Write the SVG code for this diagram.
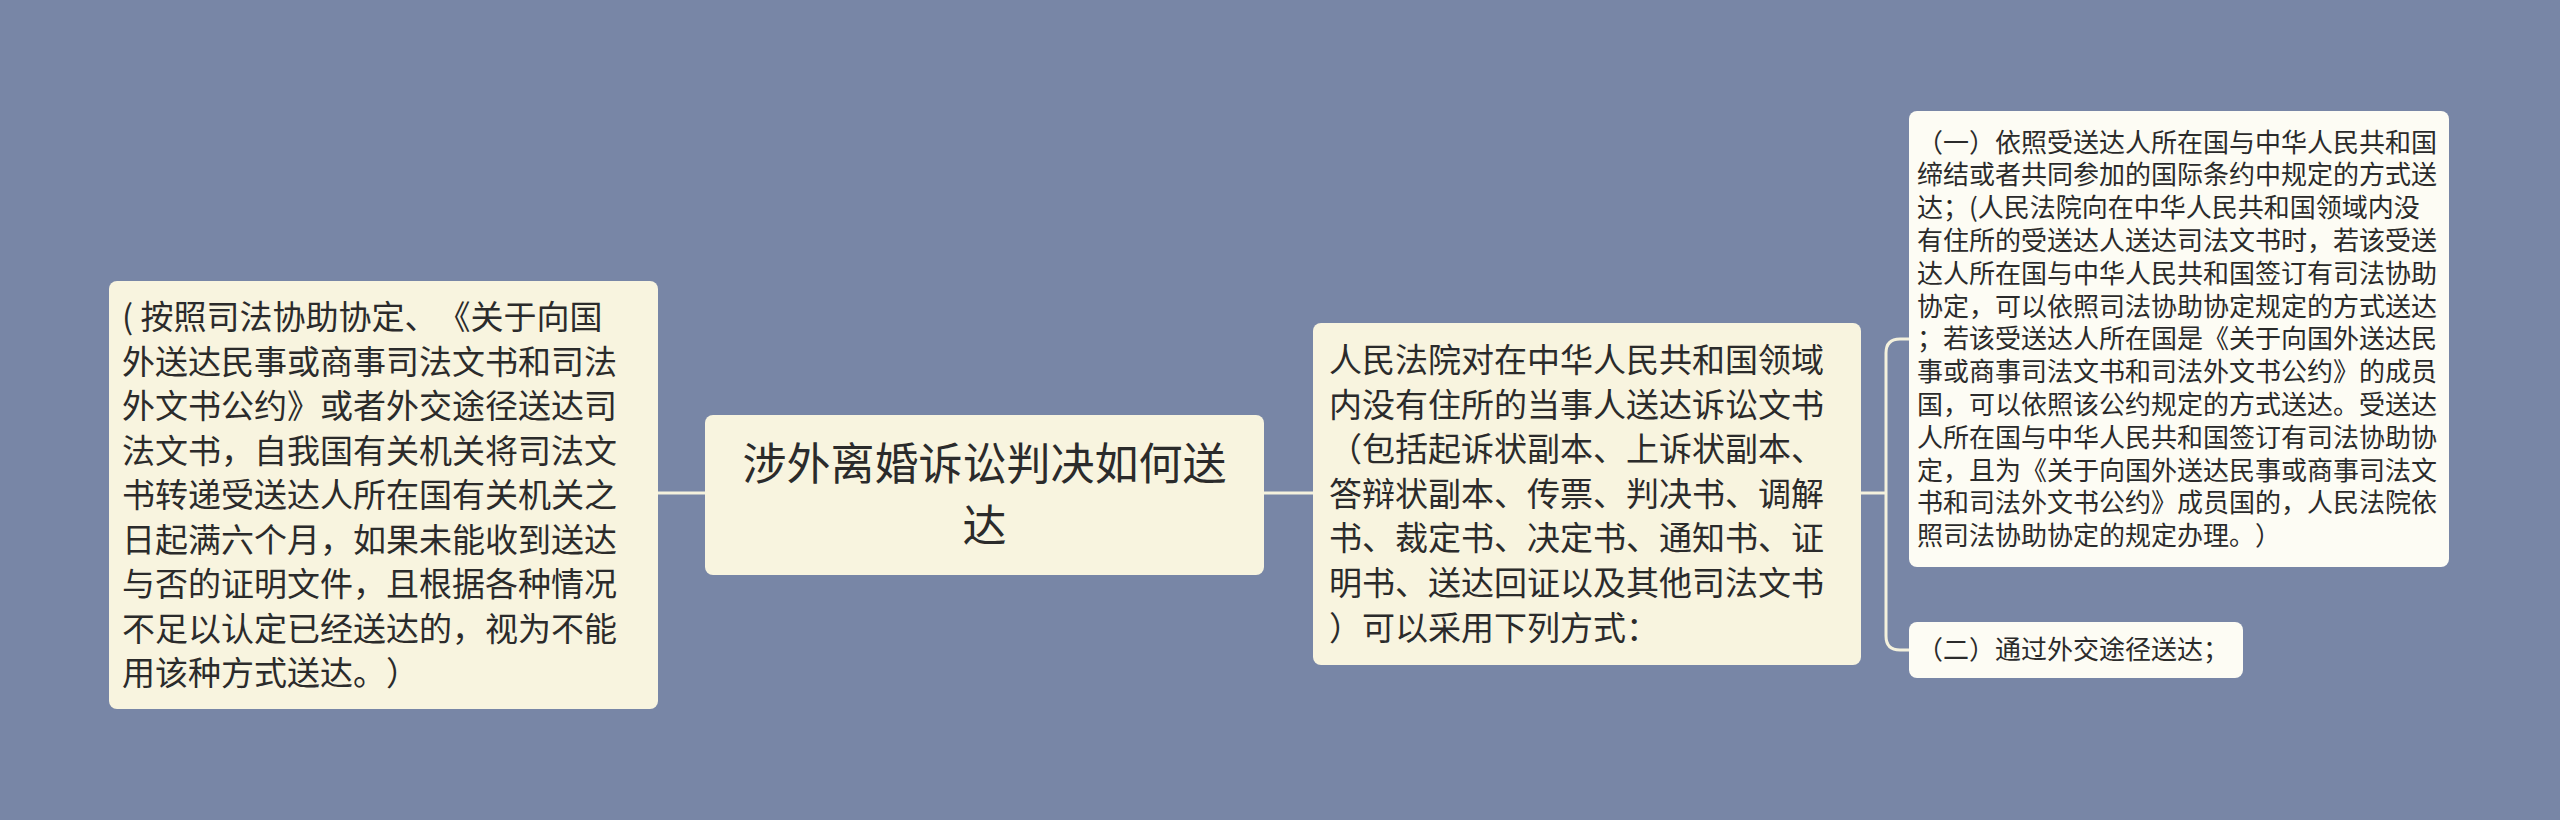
<svg xmlns="http://www.w3.org/2000/svg" width="2560" height="820" viewBox="0 0 2560 820">
<style>
.bg{fill:#7886a6}
.main{fill:#f8f4df}
.leaf{fill:#fdfcf4}
.t{font-family:"Noto Sans CJK SC","Noto Sans",sans-serif;fill:#2b2b2b;text-spacing-trim:space-all;font-feature-settings:"halt" 0,"chws" 0}
.t33{font-size:33px}
.t44{font-size:44px}
.t26{font-size:26px}
.con{fill:none;stroke:#f4f1dd;stroke-width:3}
</style>
<rect class="bg" x="0" y="0" width="2560" height="820"/>
<g id="connectors">
<path class="con" d="M658 493 H705"/>
<path class="con" d="M1264 493 H1313"/>
<path class="con" d="M1861 493 H1886"/>
<path class="con" d="M1909 339 H1900 Q1886 339 1886 353 V636 Q1886 650 1900 650 H1909"/>
</g>
<g id="node-left">
<rect class="main" x="109" y="281" width="549" height="428" rx="8"/>
<text class="t t33" x="122" y="329">( 按照司法协助协定、《关于向国</text>
<text class="t t33" x="122" y="373.5">外送达民事或商事司法文书和司法</text>
<text class="t t33" x="122" y="418">外文书公约》或者外交途径送达司</text>
<text class="t t33" x="122" y="462.5">法文书，自我国有关机关将司法文</text>
<text class="t t33" x="122" y="507">书转递受送达人所在国有关机关之</text>
<text class="t t33" x="122" y="551.5">日起满六个月，如果未能收到送达</text>
<text class="t t33" x="122" y="596">与否的证明文件，且根据各种情况</text>
<text class="t t33" x="122" y="640.5">不足以认定已经送达的，视为不能</text>
<text class="t t33" x="122" y="685">用该种方式送达。）</text>
</g>
<g id="node-center">
<rect class="main" x="705" y="415" width="559" height="160" rx="8"/>
<text class="t t44" x="984.5" y="480" text-anchor="middle">涉外离婚诉讼判决如何送</text>
<text class="t t44" x="984.5" y="542" text-anchor="middle">达</text>
</g>
<g id="node-middle">
<rect class="main" x="1313" y="323" width="548" height="342" rx="8"/>
<text class="t t33" x="1329" y="372">人民法院对在中华人民共和国领域</text>
<text class="t t33" x="1329" y="416.6">内没有住所的当事人送达诉讼文书</text>
<text class="t t33" x="1329" y="461.2">（包括起诉状副本、上诉状副本、</text>
<text class="t t33" x="1329" y="505.8">答辩状副本、传票、判决书、调解</text>
<text class="t t33" x="1329" y="550.4">书、裁定书、决定书、通知书、证</text>
<text class="t t33" x="1329" y="595">明书、送达回证以及其他司法文书</text>
<text class="t t33" x="1329" y="639.6">）可以采用下列方式：</text>
</g>
<g id="node-leaf1">
<rect class="leaf" x="1909" y="111" width="540" height="456" rx="8"/>
<text class="t t26" x="1917" y="151.6">（一）依照受送达人所在国与中华人民共和国</text>
<text class="t t26" x="1917" y="184.4">缔结或者共同参加的国际条约中规定的方式送</text>
<text class="t t26" x="1917" y="217.2">达；(人民法院向在中华人民共和国领域内没</text>
<text class="t t26" x="1917" y="250">有住所的受送达人送达司法文书时，若该受送</text>
<text class="t t26" x="1917" y="282.8">达人所在国与中华人民共和国签订有司法协助</text>
<text class="t t26" x="1917" y="315.6">协定，可以依照司法协助协定规定的方式送达</text>
<text class="t t26" x="1917" y="348.4">；若该受送达人所在国是《关于向国外送达民</text>
<text class="t t26" x="1917" y="381.2">事或商事司法文书和司法外文书公约》的成员</text>
<text class="t t26" x="1917" y="414">国，可以依照该公约规定的方式送达。受送达</text>
<text class="t t26" x="1917" y="446.8">人所在国与中华人民共和国签订有司法协助协</text>
<text class="t t26" x="1917" y="479.6">定，且为《关于向国外送达民事或商事司法文</text>
<text class="t t26" x="1917" y="512.4">书和司法外文书公约》成员国的，人民法院依</text>
<text class="t t26" x="1917" y="545.2">照司法协助协定的规定办理。）</text>
</g>
<g id="node-leaf2">
<rect class="leaf" x="1909" y="622" width="334" height="56" rx="8"/>
<text class="t t26" x="1917" y="659">（二）通过外交途径送达；</text>
</g>
</svg>
